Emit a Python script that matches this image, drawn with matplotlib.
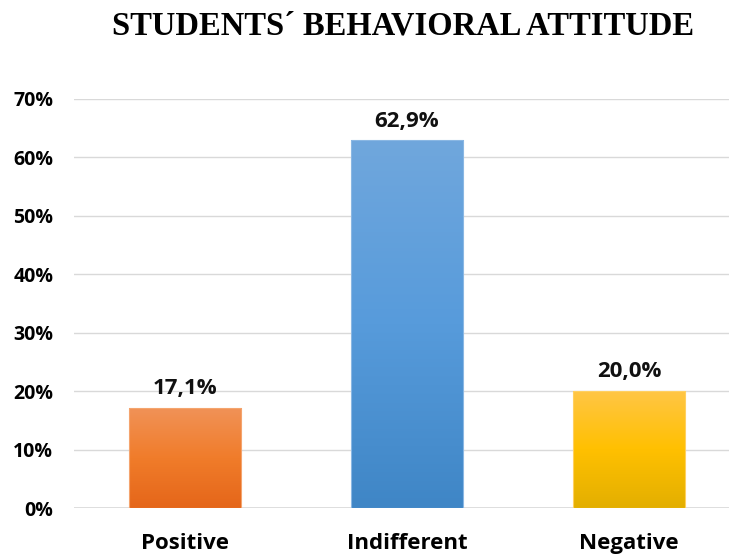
import numpy as np
import matplotlib
matplotlib.use("Agg")
import matplotlib.pyplot as plt
from matplotlib.colors import LinearSegmentedColormap

categories = ["Positive", "Indifferent", "Negative"]
values = [17.1, 62.9, 20.0]
value_labels = ["17,1%", "62,9%", "20,0%"]
yticks = [0, 10, 20, 30, 40, 50, 60, 70]
ytick_labels = ["0%", "10%", "20%", "30%", "40%", "50%", "60%", "70%"]
title = "STUDENTS\u00b4 BEHAVIORAL ATTITUDE"

# gradient stops (top, middle, bottom) for each bar
gradients = [
    ["#F19257", "#F07C2A", "#E5661A"],
    ["#70A7DD", "#579BDB", "#3F86C6"],
    ["#FFC645", "#FFC000", "#E3AF00"],
]
edge_colors = ["#F4A46E", "#8AB7E3", "#FFD060"]

fig = plt.figure(figsize=(7.29, 5.54), dpi=100)
ax = fig.add_axes([74 / 729, (554 - 508) / 554, 666 / 729, (508 - 99) / 554])

width = 0.505
x = np.arange(len(categories))
bars = ax.bar(x, values, width=width, color="none", edgecolor="none", zorder=3)

for bar, stops, ec in zip(bars, gradients, edge_colors):
    cmap = LinearSegmentedColormap.from_list("g", stops[::-1])
    x0, y0 = bar.get_x(), bar.get_y()
    w, h = bar.get_width(), bar.get_height()
    grad = np.linspace(0, 1, 256).reshape(-1, 1)
    im = ax.imshow(grad, cmap=cmap, aspect="auto", origin="lower",
                   extent=[x0, x0 + w, y0, y0 + h], zorder=3)
    im.set_clip_path(bar)
    ax.add_patch(plt.Rectangle((x0, y0), w, h, fill=False, edgecolor=ec,
                               linewidth=0.8, zorder=4))

for xi, v, lab in zip(x, values, value_labels):
    ax.text(xi, v + 1.5, lab, ha="center", va="bottom", fontsize=16,
            fontweight="bold", family="Open Sans", color="#111111")

ax.set_xlim(-0.5, 2.5)
ax.set_ylim(0, 70)
ax.set_yticks(yticks)
ax.set_yticklabels(ytick_labels, fontsize=14, fontweight="bold", family="Open Sans")
ax.set_xticks(x)
ax.set_xticklabels(categories, fontsize=16, fontweight="bold", family="Open Sans")
ax.tick_params(length=0)
ax.tick_params(axis="y", pad=15)
ax.tick_params(axis="x", pad=18)
ax.grid(axis="y", color="#D9D9D9", linewidth=1.0, zorder=0)
ax.set_axisbelow(True)
for s in ax.spines.values():
    s.set_visible(False)
ax.axhline(0, color="#D9D9D9", linewidth=1.2, zorder=1)

fig.text(403 / 729, 1 - 26 / 554, title, ha="center", va="center",
         fontsize=23.5, fontweight="bold", family="Liberation Serif")

fig.savefig("out.png", dpi=100)
